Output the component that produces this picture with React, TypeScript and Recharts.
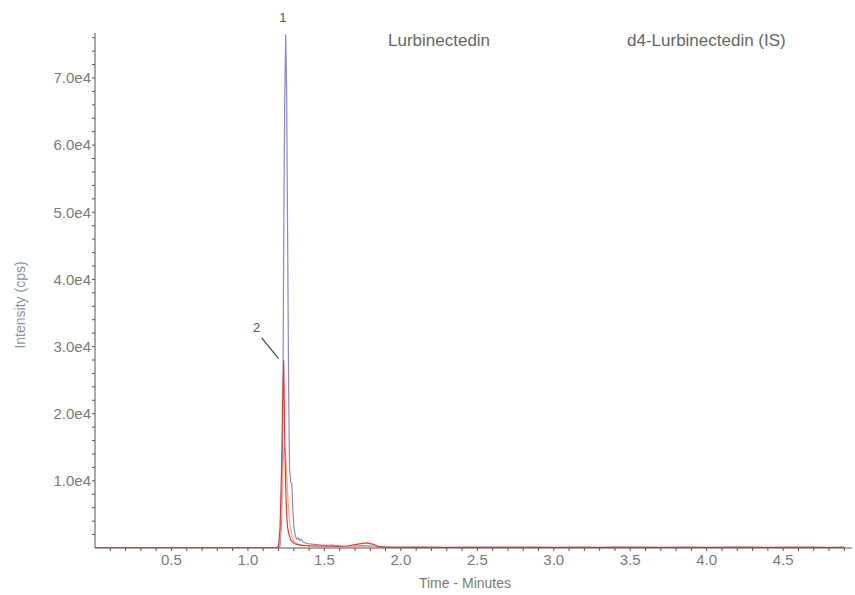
import React from 'react'
import { LineChart, Line, XAxis, YAxis, ReferenceLine, ReferenceDot } from 'recharts'

document.body.style.margin = '0'

const FONT = '"Liberation Sans", Arial, sans-serif'

// retention time (min)
const times = [
  0.0, 0.1, 0.2, 0.3, 0.4, 0.5, 0.6, 0.7, 0.8, 0.9, 1.0, 1.1, 1.15, 1.19,
  1.2, 1.21, 1.22, 1.227, 1.234, 1.24, 1.247, 1.253, 1.26, 1.266, 1.272, 1.28,
  1.287, 1.293, 1.3, 1.31, 1.32, 1.33, 1.34, 1.35, 1.36, 1.38, 1.4, 1.45, 1.5,
  1.55, 1.6, 1.65, 1.7, 1.75, 1.78, 1.82, 1.85, 1.9,
  2.0, 2.1, 2.2, 2.3, 2.4, 2.5, 2.6, 2.7, 2.8, 2.9, 3.0, 3.1, 3.2, 3.3, 3.4,
  3.5, 3.6, 3.7, 3.8, 3.9, 4.0, 4.1, 4.2, 4.3, 4.4, 4.5, 4.6, 4.7, 4.8, 4.9,
]

// intensity (cps), blue trace (peak 1)
const blue = [
  40, 50, 40, 60, 50, 40, 50, 60, 40, 50, 60, 50, 60, 80,
  100, 300, 4000, 15000, 45000, 66000, 76500, 68000, 45000, 24000, 12000, 9800,
  9600, 6000, 3200, 1800, 1300, 1500, 1100, 1300, 900, 700, 600, 500, 400,
  450, 300, 250, 300, 350, 320, 280, 200, 150,
  100, 120, 90, 110, 80, 100, 130, 90, 80, 100, 110, 90, 80, 100, 120,
  90, 100, 80, 110, 90, 100, 80, 120, 90, 100, 80, 90, 110, 100, 90,
]

// intensity (cps), red trace (peak 2)
const red = [
  30, 40, 30, 40, 30, 40, 30, 40, 30, 40, 30, 40, 40, 50,
  300, 3000, 12000, 22000, 28000, 17000, 9000, 5000, 3000, 2200, 1800, 1200,
  1000, 900, 700, 600, 550, 500, 450, 400, 380, 350, 300, 300, 300,
  280, 250, 300, 500, 700, 750, 550, 250, 150,
  100, 80, 90, 70, 80, 90, 70, 80, 90, 80, 70, 90, 80, 70, 80,
  90, 80, 70, 80, 90, 70, 80, 90, 80, 70, 80, 90, 80, 70, 80,
]

// intensity (cps), orange trace
const orange = [
  30, 30, 40, 30, 40, 30, 40, 30, 40, 30, 40, 30, 40, 40,
  60, 1500, 6000, 11000, 14500, 15000, 14000, 11000, 8000, 5500, 4000, 2800,
  2000, 1500, 1100, 800, 700, 600, 500, 450, 400, 370, 350, 300, 250,
  300, 200, 200, 200, 250, 250, 220, 180, 150,
  100, 90, 80, 90, 70, 80, 90, 70, 80, 90, 80, 70, 80, 90, 70,
  80, 90, 80, 70, 80, 90, 70, 80, 90, 80, 70, 80, 90, 70, 80,
]

const majorXTicks = [0.5, 1.0, 1.5, 2.0, 2.5, 3.0, 3.5, 4.0, 4.5]
const minorXTicks = Array.from({ length: 49 }, (_, i) => (i + 1) / 10)
const majorYTicks = [10000, 20000, 30000, 40000, 50000, 60000, 70000]
const minorYTicks = Array.from({ length: 38 }, (_, i) => (i + 1) * 2000)

const legendNames = ['Lurbinectedin', 'd4-Lurbinectedin (IS)']

const data = times.map((t, i) => ({ time: t, blue: blue[i], red: red[i], orange: orange[i] }))

const fmtX = (v: number) => (majorXTicks.some((m) => Math.abs(m - v) < 1e-6) ? v.toFixed(1) : '')
const fmtY = (v: number) => (majorYTicks.includes(v) ? `${(v / 10000).toFixed(1)}e4` : '')

const legendStyle: React.CSSProperties = {
  position: 'absolute',
  top: 31,
  fontFamily: FONT,
  fontSize: 17,
  color: '#666',
  whiteSpace: 'nowrap',
}

export default function App() {
  return (
    <div style={{ position: 'relative', width: 855, height: 595, background: '#fff' }}>
      <LineChart width={855} height={595} data={data} margin={{ top: 33, right: 3, left: 0, bottom: 0 }}>
        <XAxis
          type="number"
          dataKey="time"
          domain={[0, 4.95]}
          ticks={minorXTicks}
          interval={0}
          tickFormatter={fmtX}
          allowDataOverflow
          height={47}
          stroke="#555"
          tickSize={3}
          tickMargin={3}
          tick={{ fill: '#7a7a7a', fontSize: 15, fontFamily: FONT }}
          label={{
            content: () => (
              <text x={465} y={588} textAnchor="middle" fill="#7a7a7a" fontSize={14} fontFamily={FONT}>
                Time - Minutes
              </text>
            ),
          }}
        />
        <YAxis
          type="number"
          domain={[0, 76700]}
          ticks={minorYTicks}
          interval={0}
          tickFormatter={fmtY}
          allowDataOverflow
          width={95}
          stroke="#555"
          tickSize={3}
          tickMargin={1}
          tick={{ fill: '#7a7a7a', fontSize: 15, fontFamily: FONT }}
          label={{
            content: () => (
              <text
                x={20}
                y={305}
                transform="rotate(-90 20 305)"
                textAnchor="middle"
                dominantBaseline="central"
                fill="#8595a8"
                fontSize={14}
                fontFamily={FONT}
              >
                Intensity (cps)
              </text>
            ),
          }}
        />
        <Line type="linear" dataKey="blue" stroke="#8787d6" strokeWidth={1.2} dot={false} isAnimationActive={false} />
        <Line type="linear" dataKey="orange" stroke="#f5ac70" strokeWidth={1.2} dot={false} isAnimationActive={false} />
        <Line type="linear" dataKey="red" stroke="#e63c32" strokeWidth={1.2} dot={false} isAnimationActive={false} />
        <ReferenceLine
          segment={[{ x: 1.09, y: 31300 }, { x: 1.2, y: 28200 }]}
          stroke="#444"
          strokeWidth={1.2}
          ifOverflow="visible"
        />
        <ReferenceDot x={1.057} y={32800} r={0} ifOverflow="visible" label={{ value: '2', position: 'center', fill: '#555', fontSize: 13, fontFamily: FONT }} />
        <ReferenceDot x={1.228} y={79000} r={0} ifOverflow="visible" label={{ value: '1', position: 'center', fill: '#555', fontSize: 13, fontFamily: FONT }} />
      </LineChart>
      <span style={{ ...legendStyle, left: 388 }}>{legendNames[0]}</span>
      <span style={{ ...legendStyle, left: 627 }}>{legendNames[1]}</span>
    </div>
  )
}
